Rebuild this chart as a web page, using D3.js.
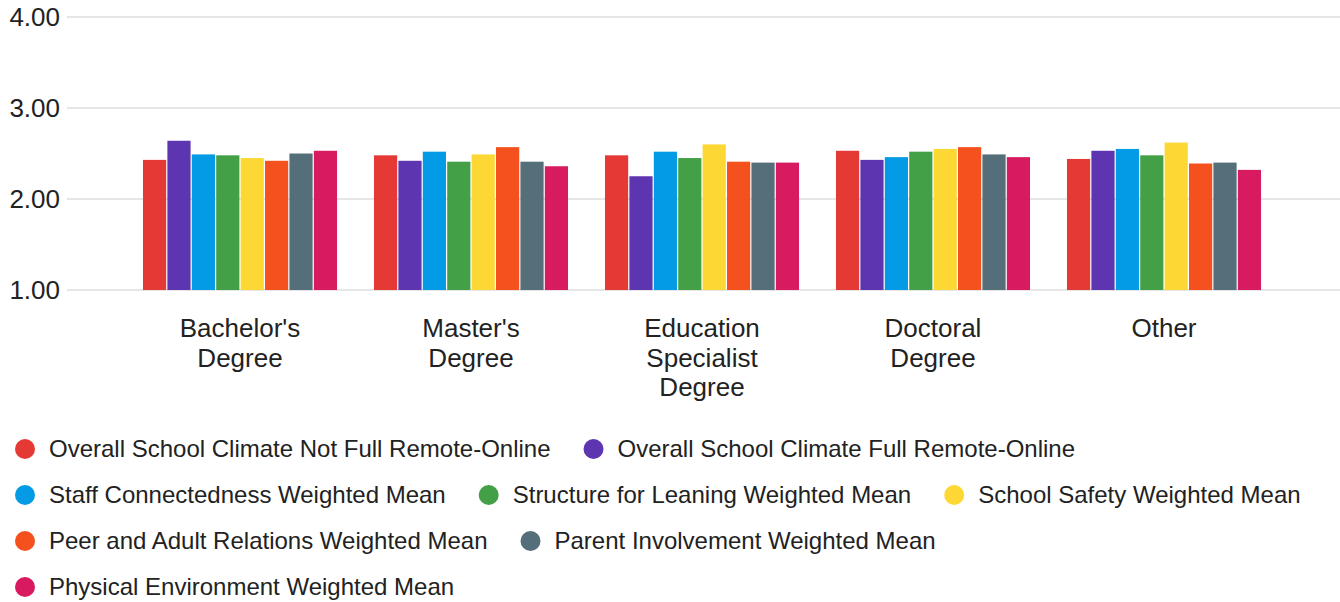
<!DOCTYPE html>
<html>
<head>
<meta charset="utf-8">
<script src="https://cdn.jsdelivr.net/npm/d3@7"></script>
<style>
  html, body { margin: 0; padding: 0; background: #fff; }
  svg { display: block; font-family: "Liberation Sans", Arial, sans-serif; }
</style>
</head>
<body>
<div id="chart"></div>
<script>
// categories and series
const categories = ["Bachelor's Degree", "Master's Degree", "Education Specialist Degree", "Doctoral Degree", "Other"];
const seriesNames = [
  "Overall School Climate Not Full Remote-Online",
  "Overall School Climate Full Remote-Online",
  "Staff Connectedness Weighted Mean",
  "Structure for Leaning Weighted Mean",
  "School Safety Weighted Mean",
  "Peer and Adult Relations Weighted Mean",
  "Parent Involvement Weighted Mean",
  "Physical Environment Weighted Mean"
];
const colors = ["#e53935", "#5e35b1", "#039be5", "#43a047", "#fdd835", "#f4511e", "#546e7a", "#d81b60"];

// values per series, one per category
const notFullRemote = [2.43, 2.48, 2.48, 2.53, 2.44];
const fullRemote    = [2.64, 2.42, 2.25, 2.43, 2.53];
const staffConn     = [2.49, 2.52, 2.52, 2.46, 2.55];
const structure     = [2.48, 2.41, 2.45, 2.52, 2.48];
const safety        = [2.45, 2.49, 2.60, 2.55, 2.62];
const peerAdult     = [2.42, 2.57, 2.41, 2.57, 2.39];
const parentInv     = [2.50, 2.41, 2.40, 2.49, 2.40];
const physicalEnv   = [2.53, 2.36, 2.40, 2.46, 2.32];

const yTicks = [1, 2, 3, 4];

const allSeries = [notFullRemote, fullRemote, staffConn, structure, safety, peerAdult, parentInv, physicalEnv];

const width = 1340, height = 602;
const svg = d3.select("#chart").append("svg").attr("width", width).attr("height", height);

const y = d3.scaleLinear().domain([1, 4]).range([290, 17]);
const x0 = d3.scaleBand().domain(categories).range([124.5, 1279.5]).paddingInner(0.16).paddingOuter(0.08);
const x1 = d3.scaleBand().domain(d3.range(seriesNames.length)).range([0, x0.bandwidth()]).paddingInner(0.05);

// gridlines
svg.append("g").selectAll("line").data(yTicks).join("line")
  .attr("x1", 67).attr("x2", width)
  .attr("y1", d => y(d)).attr("y2", d => y(d))
  .attr("stroke", "#e6e6e6").attr("stroke-width", 2);

// y labels
svg.append("g").selectAll("text").data(yTicks).join("text")
  .attr("x", 60).attr("y", d => y(d)).attr("dy", "0.36em")
  .attr("text-anchor", "end").attr("font-size", 26).attr("fill", "#222")
  .text(d => d3.format(".2f")(d));

// bars
const groups = svg.append("g").selectAll("g").data(categories).join("g")
  .attr("transform", c => `translate(${x0(c)},0)`);
groups.selectAll("rect").data((c, ci) => allSeries.map((s, si) => ({si, v: s[ci]}))).join("rect")
  .attr("x", d => x1(d.si)).attr("width", x1.bandwidth())
  .attr("y", d => y(d.v)).attr("height", d => y(1) - y(d.v))
  .attr("fill", d => colors[d.si]);

// category labels, wrapped
const labels = svg.append("g").selectAll("text").data(categories).join("text")
  .attr("text-anchor", "middle").attr("font-size", 26).attr("fill", "#222")
  .attr("x", c => x0(c) + x0.bandwidth() / 2).attr("y", 337);
labels.each(function(c) {
  const t = d3.select(this);
  const words = c.split(" ");
  let line = [], lines = [];
  const probe = t.append("tspan");
  words.forEach(w => {
    const test = line.concat([w]).join(" ");
    probe.text(test);
    if (probe.node().getComputedTextLength() > 165 && line.length) {
      lines.push(line.join(" "));
      line = [w];
    } else line.push(w);
  });
  lines.push(line.join(" "));
  probe.remove();
  lines.forEach((l, i) => {
    t.append("tspan").attr("x", x0(c) + x0.bandwidth() / 2).attr("dy", i ? 29.5 : 0).text(l);
  });
});

// legend
const legend = svg.append("g");
let lx = 15, row = 0;
const rowY = 449, rowStep = 46;
seriesNames.forEach((name, i) => {
  const g = legend.append("g");
  const txt = g.append("text").attr("font-size", 24).attr("fill", "#222").attr("dy", "0.35em").text(name);
  const tw = txt.node().getComputedTextLength();
  if (lx + 34 + tw > 1330) { lx = 15; row++; }
  const cy = rowY + row * rowStep;
  g.insert("circle", "text").attr("cx", lx + 10).attr("cy", cy).attr("r", 10).attr("fill", colors[i]);
  txt.attr("x", lx + 34).attr("y", cy);
  lx += 34 + tw + 33;
});
</script>
</body>
</html>
